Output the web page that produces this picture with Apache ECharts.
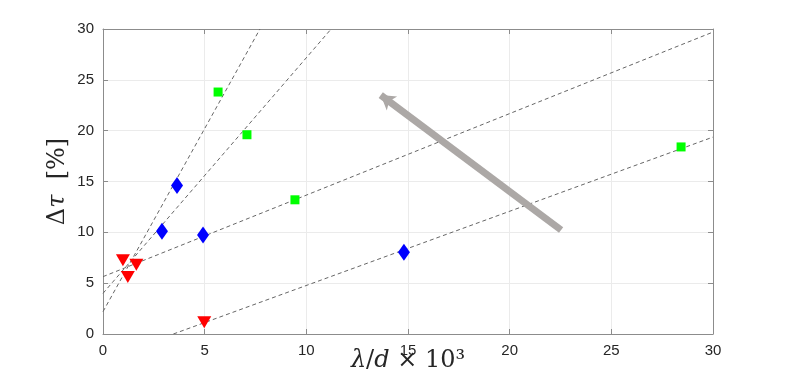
<!DOCTYPE html>
<html>
<head>
<meta charset="utf-8">
<script src="https://cdn.jsdelivr.net/npm/echarts@6/dist/echarts.min.js"></script>
<style>
  html, body { margin: 0; padding: 0; background: #fff; }
  #main { width: 789px; height: 376px; }
</style>
</head>
<body>
<div id="main"></div>
<script>
// measured points
var greenSquares = [[5.66, 23.8], [7.08, 19.6], [9.44, 13.2], [28.43, 18.4]];
var blueDiamonds = [[3.64, 14.6], [2.9, 10.1], [4.92, 9.75], [14.8, 8.05]];
var redTriangles = [[0.98, 7.25], [1.22, 5.6], [1.64, 6.8], [4.98, 1.15]];

// dashed fit lines (end points)
var fit1 = [[0, 2.2], [7.72, 30]];
var fit2 = [[0, 4.0], [11.22, 30]];
var fit3 = [[0, 5.64], [30, 29.7]];
var fit4 = [[3.46, 0], [30, 19.37]];

// grey arrow: from -> to
var arrowFrom = [22.53, 10.23];
var arrowTo = [13.66, 23.5];

var xTicks = [0, 5, 10, 15, 20, 25, 30];
var yTicks = [0, 5, 10, 15, 20, 25, 30];

var axisColor = '#8c8c8c';
var labelFont = { color: '#262626', fontSize: 15, fontFamily: 'Liberation Sans, Arial, sans-serif' };

function fitSeries(pts) {
	return {
		type: 'line',
		data: pts,
		symbol: 'none',
		silent: true,
		lineStyle: { color: '#666', width: 1, type: [4, 3] },
		z: 1
	};
}

var chart = echarts.init(document.getElementById('main'));
chart.setOption({
	animation: false,
	grid: { left: 103, right: 76, top: 29, bottom: 42, containLabel: false, outerBoundsMode: 'none' },
	xAxis: [{
		type: 'value', min: xTicks[0], max: xTicks[xTicks.length - 1], interval: 5,
		axisLine: { show: true, onZero: false, lineStyle: { color: axisColor } },
		axisTick: { show: true, inside: true, length: 5, lineStyle: { color: axisColor } },
		axisLabel: Object.assign({ margin: 9 }, labelFont),
		splitLine: { show: true, lineStyle: { color: '#ebebeb' } },
		name: '{it|λ}{rm|/}{it|d}{rm| × 10³}',
		nameLocation: 'middle',
		nameGap: 15,
		nameMoveOverlap: false,
		nameTextStyle: {
			verticalAlign: 'top',
			rich: {
				it: { fontFamily: 'DejaVu Serif', fontStyle: 'italic', fontSize: 24, color: '#262626' },
				rm: { fontFamily: 'DejaVu Serif', fontSize: 24, color: '#262626' }
			}
		}
	}, {
		type: 'value', position: 'top', min: 0, max: 30, interval: 5,
		axisLine: { show: true, onZero: false, lineStyle: { color: axisColor } },
		axisTick: { show: true, inside: true, length: 5, lineStyle: { color: axisColor } },
		axisLabel: { show: false },
		splitLine: { show: false }
	}],
	yAxis: [{
		type: 'value', min: yTicks[0], max: yTicks[yTicks.length - 1], interval: 5,
		axisLine: { show: true, onZero: false, lineStyle: { color: axisColor } },
		axisTick: { show: true, inside: true, length: 5, lineStyle: { color: axisColor } },
		axisLabel: Object.assign({ margin: 9 }, labelFont),
		splitLine: { show: true, lineStyle: { color: '#ebebeb' } },
		name: '{rm|Δ}{it|τ}{rm|  [%]}',
		nameLocation: 'middle',
		nameGap: 33,
		nameMoveOverlap: false,
		nameRotate: 90,
		nameTextStyle: {
			rich: {
				it: { fontFamily: 'DejaVu Serif', fontStyle: 'italic', fontSize: 24, color: '#262626' },
				rm: { fontFamily: 'DejaVu Serif', fontSize: 24, color: '#262626' }
			}
		}
	}, {
		type: 'value', position: 'right', min: 0, max: 30, interval: 5,
		axisLine: { show: true, onZero: false, lineStyle: { color: axisColor } },
		axisTick: { show: true, inside: true, length: 5, lineStyle: { color: axisColor } },
		axisLabel: { show: false },
		splitLine: { show: false }
	}],
	series: [
		fitSeries(fit1),
		fitSeries(fit2),
		fitSeries(fit3),
		fitSeries(fit4),
		{
			type: 'line',
			data: [],
			silent: true,
			z: 2,
			markLine: {
				silent: true,
				symbol: ['none', 'arrow'],
				symbolSize: [13, 14],
				animation: false,
				label: { show: false },
				lineStyle: { color: '#aca8a6', width: 7, type: 'solid', opacity: 1 },
				data: [[{ coord: arrowFrom }, { coord: arrowTo }]]
			}
		},
		{
			type: 'scatter', data: greenSquares, symbol: 'rect', symbolSize: 9,
			itemStyle: { color: '#00ff00', opacity: 1 }, z: 5
		},
		{
			type: 'scatter', data: blueDiamonds, symbol: 'diamond', symbolSize: [12, 17],
			itemStyle: { color: '#0000ff', opacity: 1 }, z: 5
		},
		{
			type: 'scatter', data: redTriangles, symbol: 'triangle', symbolRotate: 180, symbolSize: [14, 12],
			itemStyle: { color: '#ff0000', opacity: 1 }, z: 5
		}
	]
});
</script>
</body>
</html>
